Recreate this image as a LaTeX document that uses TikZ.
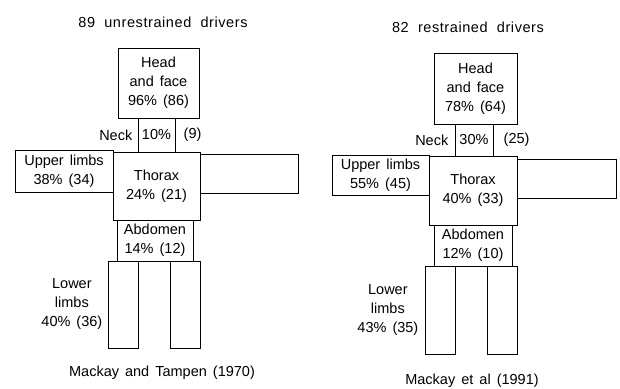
\documentclass[tikz,border=0pt]{standalone}
\usepackage{fontspec}
\setmainfont[WordSpace=1.5]{Liberation Sans}
\newfontfamily\titlefont[WordSpace=2,LetterSpace=4]{Liberation Sans}
\usetikzlibrary{positioning}

\begin{document}
\begin{tikzpicture}[
  x=1pt, y=-1pt,
  every node/.style={font=\fontsize{14.5}{19}\selectfont},
  part/.style={rectangle, draw, line width=1pt, inner sep=0pt, align=center},
  txt/.style={inner sep=0pt, align=center},
  head/.style={txt, font=\titlefont\fontsize{14.5}{19}\selectfont}
]
\useasboundingbox (0,0) rectangle (620,388);

% unrestrained drivers
\node[head] (titleA) at (163,22) {89 unrestrained drivers};
\node[part, minimum width=81pt, minimum height=70pt] (headA) at (158.5,83) {Head\\and face\\96\% (86)};
\node[part, minimum width=37pt, minimum height=34pt] (neckA) at (156.5,135) {10\%};
\node[txt, left=5pt of neckA] (necklA) {Neck};
\node[txt, right=8pt of neckA] (necknA) {(9)};
\node[part, minimum width=98pt, minimum height=42pt] (larmA) at (64,171) {Upper limbs\\38\% (34)};
\node[part, minimum width=87pt, minimum height=68pt] (thoraxA) at (156.5,186) {Thorax\\24\% (21)};
\node[part, minimum width=98pt, minimum height=39pt] (rarmA) at (249,173.5) {};
\node[part, minimum width=76pt, minimum height=41pt] (abdA) at (155,240.5) {Abdomen\\14\% (12)};
\node[part, minimum width=30pt, minimum height=87pt] (llegA) at (123,304.5) {};
\node[part, minimum width=30pt, minimum height=87pt] (rlegA) at (185,304.5) {};
\node[txt, left=5pt of llegA] (legsA) {Lower\\limbs\\40\% (36)};
\node[txt] (srcA) at (162,373) {Mackay and Tampen (1970)};

% restrained drivers
\node[head] (titleB) at (468,27) {82 restrained drivers};
\node[part, minimum width=83pt, minimum height=71pt] (headB) at (475.5,88.5) {Head\\and face\\78\% (64)};
\node[part, minimum width=38pt, minimum height=32pt] (neckB) at (474,140) {30\%};
\node[txt, left=6pt of neckB] (necklB) {Neck};
\node[txt, right=10pt of neckB] (necknB) {(25)};
\node[part, minimum width=97pt, minimum height=40pt] (larmB) at (380.5,175) {Upper limbs\\55\% (45)};
\node[part, minimum width=88pt, minimum height=69pt] (thoraxB) at (473,190.5) {Thorax\\40\% (33)};
\node[part, minimum width=99pt, minimum height=39pt] (rarmB) at (566.5,178.5) {};
\node[part, minimum width=78pt, minimum height=41pt] (abdB) at (473,245.5) {Abdomen\\12\% (10)};
\node[part, minimum width=30pt, minimum height=88pt] (llegB) at (440,310) {};
\node[part, minimum width=30pt, minimum height=88pt] (rlegB) at (502,310) {};
\node[txt, left=6pt of llegB] (legsB) {Lower\\limbs\\43\% (35)};
\node[txt] (srcB) at (472,381) {Mackay et al (1991)};
\end{tikzpicture}
\end{document}
